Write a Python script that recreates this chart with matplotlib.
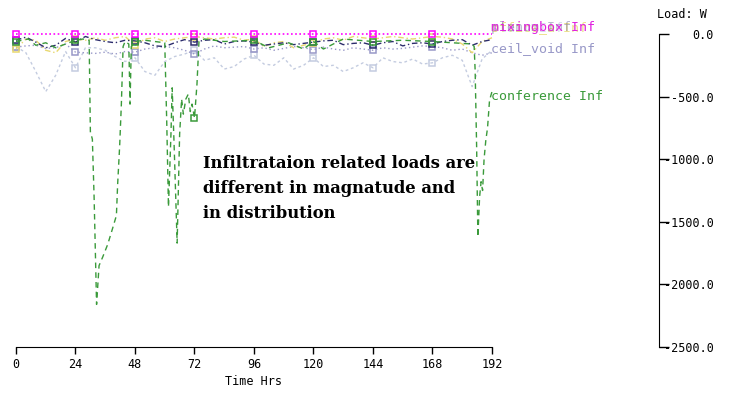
import matplotlib
matplotlib.use("Agg")
import matplotlib.pyplot as plt

plt.rcParams['axes.unicode_minus'] = False
MONO = 'DejaVu Sans Mono'

# hourly samples (every 4 h) for the zones that stay near zero
hours = list(range(0, 193, 4))

mixingbox = [0, 0, 0, 0, 0, 0, 0, 0, 0, 0, 0, 0, 0, 0, 0, 0, 0, 0, 0, 0, 0, 0, 0, 0, 0,
             0, 0, 0, 0, 0, 0, 0, 0, 0, 0, 0, 0, 0, 0, 0, 0, 0, 0, 0, 0, 0, 0, 0, 0]

ceil_void = [-105, -95, -90, -115, -110, -80, -145, -150, -155, -145, -160, -140, -145,
             -120, -110, -100, -110, -130, -160, -120, -95, -110, -105, -100, -120,
             -110, -130, -115, -100, -110, -125, -105, -120, -130, -110, -120, -130,
             -110, -120, -115, -105, -95, -100, -110, -130, -120, -150, -170, -150]

plenum = [-50, -25, -65, -110, -90, -35, -65, -20, -45, -60, -70, -50, -55, -70, -95,
          -100, -70, -45, -65, -50, -45, -80, -60, -55, -65, -90, -80, -70, -85, -75,
          -65, -55, -50, -85, -75, -70, -90, -70, -60, -95, -75, -70, -80, -60, -50,
          -45, -90, -60, -45]

stair = [-100, -150, -300, -460, -330, -140, -270, -110, -110, -130, -180, -220, -190,
         -300, -330, -220, -180, -160, -130, -210, -190, -280, -260, -200, -170, -240,
         -250, -190, -280, -250, -190, -260, -250, -300, -270, -230, -270, -190, -220,
         -230, -200, -240, -230, -190, -170, -210, -420, -200, -130]

office = [-120, -40, -50, -130, -150, -60, -40, -50, -30, -50, -30, -20, -90, -40, -30,
          -60, -40, -30, -20, -30, -40, -30, -25, -50, -40, -100, -70, -60, -110, -90,
          -70, -40, -30, -50, -20, -30, -40, -30, -20, -30, -40, -30, -20, -25, -40,
          -80, -150, -60, -30]

# conference zone has sharp spikes, so it gets its own time stamps
conf_hours = [0, 5, 8, 12, 16, 20, 24, 27, 29.5, 30, 30.8, 31.5, 32.5, 33.5, 35, 37, 39,
              40.5, 41, 41.8, 42.5, 43.2, 44, 45.5, 46, 46.5, 48, 52, 56, 60, 60.8, 61.5,
              62.5, 63, 63.8, 65, 66, 66.8, 67.5, 68.5, 69.5, 70.3, 71, 72, 73, 73.8, 76,
              84, 96, 102, 110, 116, 120, 124, 132, 144, 156, 168, 176, 184, 184.8, 185.2,
              185.8, 186.3, 187, 187.6, 188.2, 188.8, 189.5, 190.2, 191, 192]
conference = [-60, -40, -90, -70, -110, -80, -50, -40, -50, -780, -840, -1300, -2160,
              -1850, -1780, -1680, -1550, -1450, -1200, -900, -560, -100, -60, -80, -560,
              -100, -60, -50, -60, -70, -700, -1380, -800, -430, -900, -1670, -800, -520,
              -640, -520, -480, -620, -560, -670, -400, -60, -40, -60, -50, -110, -70,
              -120, -60, -120, -40, -60, -50, -60, -70, -80, -100, -290, -900, -1620,
              -1300, -1180, -1250, -1000, -850, -750, -530, -460]

x_ticks = [0, 24, 48, 72, 96, 120, 144, 168, 192]
y_ticks = [0, -500, -1000, -1500, -2000, -2500]
y_labels = ['0.0', '-500.0', '-1000.0', '-1500.0', '-2000.0', '-2500.0']

marks = [i for i, h in enumerate(hours) if h % 24 == 0 and h < 192]
conf_marks = [i for i, h in enumerate(conf_hours) if h % 24 == 0 and h < 192]

fig = plt.figure(figsize=(7.37, 3.95), dpi=100)
ax = fig.add_axes([16 / 737, 1 - 347 / 395, 476 / 737, 313 / 395])

sq = dict(marker='s', markersize=5, markerfacecolor='none', markeredgewidth=1.1,
          clip_on=False)
ax.plot(hours, stair, color='#c4cce0', lw=1, ls=(0, (2, 2)), markevery=marks, **sq)
ax.plot(hours, ceil_void, color='#9898c8', lw=1, ls=(0, (1, 2)), markevery=marks, **sq)
ax.plot(hours, office, color='#e8d870', lw=1, ls=(0, (4, 2, 1, 2)), markevery=marks, **sq)
ax.plot(hours, plenum, color='#2c2c6c', lw=1, ls=(0, (4, 2, 1, 2)), markevery=marks, **sq)
ax.plot(conf_hours, conference, color='#3a9a3a', lw=1, ls=(0, (4, 3)),
        markevery=conf_marks, **sq)
ax.plot(hours, mixingbox, color='#ff00ff', lw=1.2, ls=(0, (1, 1.5)), markevery=marks, **sq)

# line-end labels (several overlap at the top, mixingbox drawn last)
lab = dict(fontsize=9.5, family=MONO, va='center', ha='left')
fig.text(491 / 737, 1 - 28 / 395, 'stair Inf', color='#c4cce0', alpha=0.7, **lab)
fig.text(491 / 737, 1 - 28 / 395, 'office_a Inf', color='#e8d870', alpha=0.8, **lab)
fig.text(491 / 737, 1 - 28 / 395, 'plenum Inf', color='#2c2c6c', alpha=0.35, **lab)
fig.text(491 / 737, 1 - 28 / 395, 'mixingbox Inf', color='#e020e0', **lab)
fig.text(491 / 737, 1 - 49 / 395, 'ceil_void Inf', color='#9898c8', **lab)
fig.text(491 / 737, 1 - 97 / 395, 'conference Inf', color='#3a9a3a', **lab)

ax.text(75.4, -1235, 'Infiltrataion related loads are\ndifferent in magnatude and\nin distribution',
        family='DejaVu Serif', fontweight='bold', fontsize=11.8, va='center',
        ha='left', linespacing=1.63)

ax.set_xlim(0, 192)
ax.set_ylim(-2500, 0)
ax.spines['top'].set_visible(False)
ax.spines['left'].set_visible(False)
ax.spines['right'].set_position(('axes', 643 / 476))
ax.set_xticks(x_ticks)
ax.set_xticklabels([str(t) for t in x_ticks], family=MONO, fontsize=8.5)
ax.tick_params(axis='x', direction='out', length=5, width=1, pad=3)
ax.yaxis.tick_right()
ax.set_yticks(y_ticks)
ax.set_yticklabels(y_labels, family=MONO, fontsize=8.5)
ax.tick_params(axis='y', direction='out', length=7, width=1, pad=32.6)
plt.setp(ax.get_yticklabels(), ha='right')
ax.set_xlabel('Time Hrs', family=MONO, fontsize=8.5, labelpad=3)
fig.text(657 / 737, 1 - 14 / 395, 'Load: W', family=MONO, fontsize=8.5, va='center')

fig.savefig('out.png', dpi=100)
